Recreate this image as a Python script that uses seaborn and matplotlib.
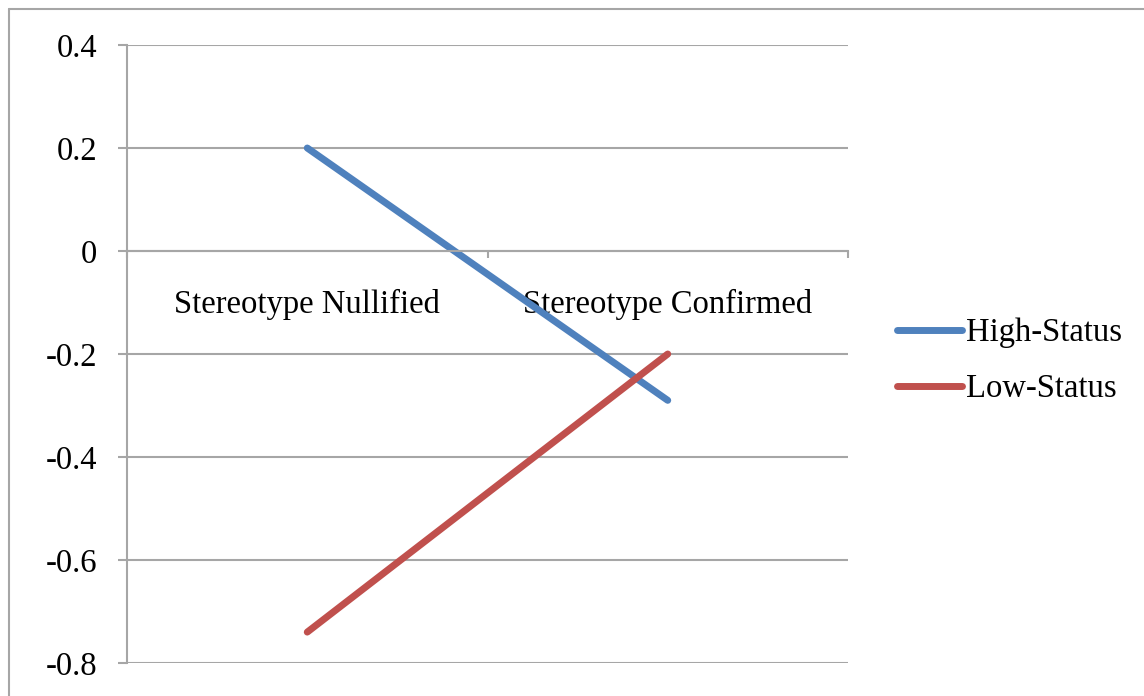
import matplotlib
matplotlib.use("Agg")
import matplotlib.pyplot as plt
from matplotlib.lines import Line2D
from matplotlib.ticker import FixedLocator
import seaborn as sns
import pandas as pd

# Chart data
categories = ["Stereotype Nullified", "Stereotype Confirmed"]
series_names = ["High-Status", "Low-Status"]
high_status = [0.20, -0.29]
low_status = [-0.74, -0.20]
y_ticks = [0.4, 0.2, 0.0, -0.2, -0.4, -0.6, -0.8]
y_tick_labels = ["0.4", "0.2", "0", "-0.2", "-0.4", "-0.6", "-0.8"]

df = pd.DataFrame({
    "condition": categories * 2,
    "value": high_status + low_status,
    "group": [series_names[0]] * 2 + [series_names[1]] * 2,
})

sns.set_theme(style="white")
plt.rcParams["font.family"] = ["Liberation Serif", "DejaVu Serif"]
plt.rcParams["text.color"] = "black"

W, H = 1144, 696
GRID = "#A6A6A6"
FS = 23.5

fig = plt.figure(figsize=(W / 100, H / 100), dpi=100)
ax = fig.add_axes([127 / W, 1 - 663 / H, (848 - 127) / W, (663 - 45) / H])

palette = {"High-Status": "#4F81BD", "Low-Status": "#C0504D"}
sns.lineplot(data=df, x="condition", y="value", hue="group", hue_order=series_names,
             palette=palette, linewidth=5, sort=False, ax=ax)
for ln in ax.lines:
    ln.set_solid_capstyle("round")

ax.set_xlim(-0.5, 1.5)
ax.set_ylim(-0.8, 0.4)
ax.set_xlabel("")
ax.set_ylabel("")

# Value axis
ax.set_yticks(y_ticks, y_tick_labels)
ax.yaxis.grid(True, color=GRID, linewidth=1.5)
ax.xaxis.grid(False)
ax.set_axisbelow(True)
ax.tick_params(axis="y", which="major", left=True, length=6.5, width=1.5,
               color=GRID, pad=15, labelsize=FS, labelcolor="black")
for lbl in ax.get_yticklabels():
    lbl.set_verticalalignment("center_baseline")

# Category axis sits on the zero line
ax.spines["top"].set_visible(False)
ax.spines["right"].set_visible(False)
ax.spines["bottom"].set_position(("data", 0))
for s in ("bottom", "left"):
    ax.spines[s].set_color(GRID)
    ax.spines[s].set_linewidth(1.5)
ax.set_xticks([0, 1], categories)
ax.xaxis.set_minor_locator(FixedLocator([-0.5, 0.5, 1.5]))
ax.tick_params(axis="x", which="major", bottom=True, length=0, pad=27.5,
               labelsize=FS, labelcolor="black")
ax.tick_params(axis="x", which="minor", bottom=True, length=5, width=1.5,
               color=GRID, direction="out")

sns.move_legend(ax, "center left", bbox_to_anchor=(897 / W, 1 - 361 / H),
                bbox_transform=fig.transFigure, title=None, frameon=False,
                fontsize=FS, handlelength=2.0, handletextpad=0.12,
                labelspacing=0.78, borderpad=0, borderaxespad=0)
for txt in ax.get_legend().get_texts():
    txt.set_color("black")

# Chart area border (top and left edges)
fig.add_artist(Line2D([9 / W, 1], [1 - 9 / H, 1 - 9 / H], transform=fig.transFigure,
                      color=GRID, linewidth=1.5))
fig.add_artist(Line2D([9 / W, 9 / W], [0, 1 - 9 / H], transform=fig.transFigure,
                      color=GRID, linewidth=1.5))

fig.savefig("out.png", dpi=100)
